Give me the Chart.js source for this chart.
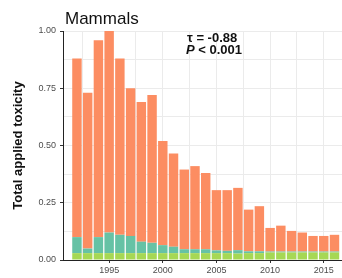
<!DOCTYPE html>
<html>
<head>
<meta charset="utf-8">
<script src="https://cdn.jsdelivr.net/npm/chart.js@4.4.1/dist/chart.umd.min.js"></script>
<style>
  html, body { margin: 0; padding: 0; background: #ffffff; }
  #wrap { width: 342px; height: 278px; position: relative; }
</style>
</head>
<body>
<div id="wrap"><canvas id="c"></canvas></div>
<script>
// ---- data ----
const years = [1992,1993,1994,1995,1996,1997,1998,1999,2000,2001,2002,2003,2004,2005,2006,2007,2008,2009,2010,2011,2012,2013,2014,2015,2016];
const totals = [0.88,0.73,0.96,1.00,0.88,0.75,0.69,0.72,0.52,0.465,0.395,0.41,0.38,0.305,0.305,0.315,0.22,0.235,0.14,0.15,0.127,0.12,0.105,0.105,0.11];
const greenVals = [0.03,0.03,0.03,0.03,0.03,0.03,0.03,0.03,0.03,0.03,0.03,0.03,0.03,0.03,0.03,0.028,0.03,0.03,0.033,0.033,0.033,0.033,0.033,0.033,0.033];
const tealVals = [0.07,0.02,0.07,0.09,0.08,0.075,0.05,0.045,0.035,0.028,0.017,0.017,0.017,0.012,0.01,0.015,0.008,0.008,0.004,0.004,0.004,0.004,0.004,0.004,0.004];
const orangeVals = totals.map((t, i) => +(t - tealVals[i] - greenVals[i]).toFixed(3));
const xMajorTicks = [1995, 2000, 2005, 2010, 2015];
const xGridTicks = [1992.5,1995,1997.5,2000,2002.5,2005,2007.5,2010,2012.5,2015];
const yGridTicks = [0,0.125,0.25,0.375,0.5,0.625,0.75,0.875,1];
const titleText = 'Mammals';
const tauText = '\u03C4 = -0.88';
const pText = ' < 0.001';

const toPts = arr => arr.map((v, i) => ({ x: years[i], y: v }));
const FONT = '"Liberation Sans", Arial, Helvetica, sans-serif';

const textPlugin = {
  id: 'texts',
  afterDraw(chart) {
    const ctx = chart.ctx;
    ctx.save();
    ctx.fillStyle = '#111';
    ctx.textBaseline = 'alphabetic';
    ctx.textAlign = 'left';
    ctx.font = '17px ' + FONT;
    ctx.fillText(titleText, 65, 24);
    ctx.font = 'bold 13px ' + FONT;
    ctx.fillText(tauText, 187, 42);
    ctx.font = 'italic bold 13px ' + FONT;
    ctx.fillText('P', 186, 54);
    const w = ctx.measureText('P').width;
    ctx.font = 'bold 13px ' + FONT;
    ctx.fillText(pText, 186 + w, 54);
    ctx.restore();
  }
};

new Chart(document.getElementById('c'), {
  type: 'bar',
  data: {
    datasets: [
      { label: 'green', data: toPts(greenVals), backgroundColor: '#A6D854', stack: 's' },
      { label: 'teal', data: toPts(tealVals), backgroundColor: '#66C2A5', stack: 's' },
      { label: 'orange', data: toPts(orangeVals), backgroundColor: '#FC8D62', stack: 's' }
    ]
  },
  options: {
    responsive: true,
    maintainAspectRatio: false,
    animation: false,
    events: [],
    layout: { padding: { top: 31, right: 0, bottom: 0, left: 0 } },
    datasets: { bar: { categoryPercentage: 1.0, barPercentage: 0.88, borderWidth: 0 } },
    plugins: { legend: { display: false }, tooltip: { enabled: false }, title: { display: false } },
    scales: {
      x: {
        type: 'linear',
        offset: false,
        min: 1990.7,
        max: 2016.7,
        afterBuildTicks: s => { s.ticks = xGridTicks.map(v => ({ value: v })); },
        afterFit: s => { s.height = 18; },
        ticks: {
          autoSkip: false, maxRotation: 0, padding: 2,
          color: '#4d4d4d', font: { family: FONT, size: 9 },
          callback: v => xMajorTicks.includes(v) ? String(v) : ''
        },
        grid: {
          offset: false,
          color: '#ebebeb', lineWidth: 1, tickLength: 3,
          tickColor: c => (c.tick && xMajorTicks.includes(c.tick.value)) ? '#333' : 'rgba(0,0,0,0)'
        },
        border: { display: true, color: '#222', width: 1 }
      },
      y: {
        stacked: true,
        min: 0, max: 1,
        afterBuildTicks: s => { s.ticks = yGridTicks.map(v => ({ value: v })); },
        afterFit: s => { s.width = 63; },
        ticks: {
          padding: 4, color: '#4d4d4d', font: { family: FONT, size: 9 },
          callback: v => (Math.abs(v * 4 - Math.round(v * 4)) < 1e-6) ? v.toFixed(2) : ''
        },
        grid: {
          color: '#ebebeb', lineWidth: 1, tickLength: 3,
          tickColor: c => (c.tick && Math.abs(c.tick.value * 4 - Math.round(c.tick.value * 4)) < 1e-6) ? '#333' : 'rgba(0,0,0,0)'
        },
        border: { display: true, color: '#222', width: 1 },
        title: {
          display: true, text: 'Total applied toxicity', color: '#111',
          font: { family: FONT, size: 13, weight: 'bold' },
          padding: { top: 11, bottom: 0 }
        }
      }
    }
  },
  plugins: [textPlugin]
});
</script>
</body>
</html>
